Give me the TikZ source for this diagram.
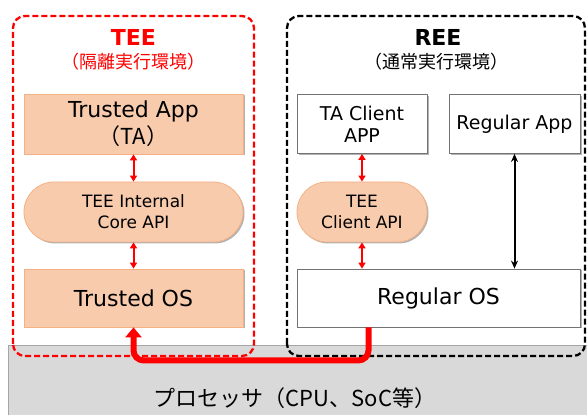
\documentclass[tikz,border=0pt]{standalone}
\usepackage{fontspec}
\setmainfont{DejaVu Sans}
\newfontfamily\jpfont{Noto Sans CJK JP}
\usepackage{tikz}
\usetikzlibrary{arrows.meta, shadows}
\definecolor{peach}{HTML}{F8CBAD}
\definecolor{peachline}{HTML}{F4B183}
\definecolor{procgray}{HTML}{D9D9D9}

\begin{document}
\begin{tikzpicture}[x=1pt, y=1pt,
    boxshadow/.style={drop shadow={shadow xshift=1.5pt, shadow yshift=-1.5pt, opacity=0.3, fill=black}},
    peachbox/.style={draw=peachline, fill=peach, line width=0.8pt, boxshadow, align=center, inner sep=0pt},
    whitebox/.style={draw=black!55, fill=white, line width=0.8pt, boxshadow, align=center, inner sep=0pt},
    apibox/.style={peachbox, rounded corners=29.9pt, minimum width=130pt, minimum height=60pt},
    envbox/.style={line width=2.3pt, dash pattern=on 6pt off 3pt, rounded corners=12pt},
    redarrow/.style={red, line width=2pt, {Triangle[length=6pt,width=7pt]}-{Triangle[length=6pt,width=7pt]}},
    bigtext/.style={font=\fontsize{22}{27}\selectfont},
    midtext/.style={font=\fontsize{19}{22}\selectfont},
    smalltext/.style={font=\fontsize{17}{21}\selectfont}]
    \useasboundingbox (0,0) rectangle (587,415);

    % processor
    \node[draw=black!35, fill=procgray, line width=1pt, anchor=north west, minimum width=600pt, minimum height=80pt] (proc) at (8,70) {};
    \node[font=\jpfont\fontsize{22}{26}\selectfont] (cpu) at (295,17) {プロセッサ（CPU、SoC等）};

    % environments
    \draw[envbox, red] (13,59) rectangle (254,399);
    \draw[envbox, black] (287,59) rectangle (585,399);
    \node[text=red, font=\bfseries\fontsize{22}{26}\selectfont] (teetitle) at (133.5,378) {TEE};
    \node[text=red, font=\jpfont\fontsize{18}{20}\selectfont] (teesub) at (133.5,353) {（隔離実行環境）};
    \node[font=\bfseries\fontsize{22}{26}\selectfont] (reetitle) at (438,378) {REE};
    \node[font=\jpfont\fontsize{18}{20}\selectfont] (reesub) at (436,353) {（通常実行環境）};

    % TEE side
    \node[peachbox, bigtext, minimum width=219pt, minimum height=60pt] (ta) at (133.5,291) {Trusted App\\{\jpfont （TA）}};
    \node[apibox, smalltext, minimum width=219pt] (core) at (133.5,203) {TEE Internal\\Core API};
    \node[peachbox, bigtext, minimum width=219pt, minimum height=58pt] (tos) at (133.5,117) {Trusted OS};

    % REE side
    \node[whitebox, midtext, minimum width=130pt, minimum height=59pt] (client) at (362,291) {TA Client\\APP};
    \node[whitebox, midtext, minimum width=131pt, minimum height=59pt] (rapp) at (514.5,291) {Regular App};
    \node[apibox, smalltext] (capi) at (362,203) {TEE\\Client API};
    \node[whitebox, bigtext, minimum width=283pt, minimum height=58pt] (ros) at (438.5,117) {Regular OS};

    \draw[redarrow] (ta) -- (core);
    \draw[redarrow] (core) -- (tos);
    \draw[redarrow] (client) -- (capi);
    \draw[redarrow] (capi.south) -- (capi.south |- ros.north);
    \draw[line width=2pt, {Stealth[length=8pt,width=7pt]}-{Stealth[length=8pt,width=7pt]}] (rapp.south) -- (rapp.south |- ros.north);

    \draw[red, line width=6pt, rounded corners=10pt, -{Triangle[length=10pt,width=16pt]}] ([xshift=-70pt]ros.south) -- ++(0,-33) -| (tos.south);
\end{tikzpicture}
\end{document}
